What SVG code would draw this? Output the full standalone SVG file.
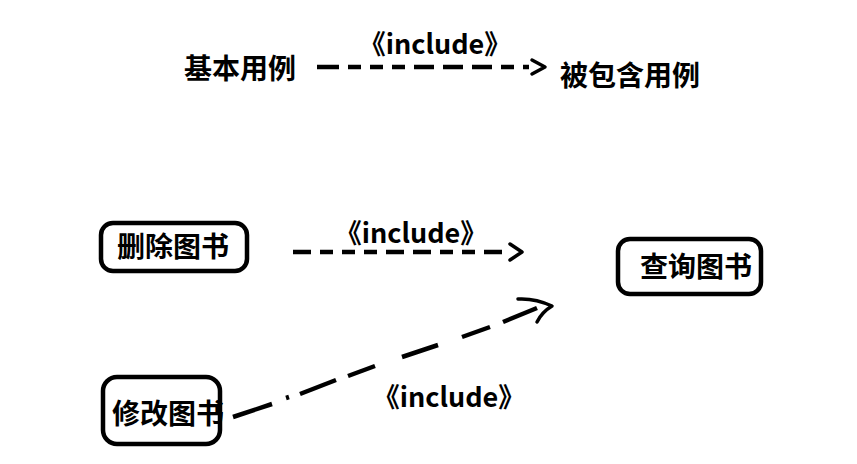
<svg xmlns="http://www.w3.org/2000/svg" width="857" height="464" viewBox="0 0 857 464">
<style>
.t{font-family:"Noto Sans CJK SC","Microsoft YaHei",sans-serif;font-weight:bold;fill:#000}
.big{font-size:28px}
.inc{font-size:27px;text-anchor:middle}
.box{fill:#fff;stroke:#000;stroke-width:4.5}
.ln{stroke:#000;stroke-width:4.5;fill:none}
.ah{stroke:#000;stroke-width:3.5;fill:none;stroke-linecap:round;stroke-linejoin:round}
</style>
<rect width="857" height="464" fill="#fff"/>
<g id="legend">
<text class="t big" x="184" y="79">基本用例</text>
<text class="t big" x="560" y="86">被包含用例</text>
<text class="t inc" x="435" y="54">《include》</text>
</g>
<g id="delete">
<rect class="box" x="101" y="223" width="146" height="48" rx="12"/>
<text class="t big" x="117" y="257">删除图书</text>
</g>
<g id="query">
<rect class="box" x="618" y="239" width="143" height="55" rx="12"/>
<text class="t big" x="640" y="277">查询图书</text>
</g>
<g id="modify">
<rect class="box" x="103" y="377" width="117" height="67" rx="14"/>
<text class="t big" x="112" y="424">修改图书</text>
</g>
<g id="connectors">
<line class="ln" x1="317" y1="67" x2="529" y2="67" stroke-dasharray="22 9 13 9 13 9 13 9 20 9 20 9 20 9 13 9 13 9"/>
<polyline class="ah" points="532,60 545,67 532,74"/>
<text class="t inc" x="411" y="243">《include》</text>
<line class="ln" x1="293" y1="252" x2="507" y2="252" stroke-dasharray="18 9 13 9 13 9 13 9 18 9 18 9 13 9 13 9"/>
<polyline class="ah" points="510,244 522,252 510,260"/>
<g class="ln" stroke-width="5">
<line x1="233" y1="417" x2="272" y2="404"/>
<line x1="286" y1="398" x2="289" y2="397"/>
<line x1="300" y1="394" x2="336" y2="380"/>
<line x1="348" y1="376" x2="375" y2="366"/>
<line x1="402" y1="357" x2="438" y2="345"/>
<line x1="462" y1="337" x2="490" y2="327"/>
<line x1="503" y1="322" x2="537" y2="308"/>
</g>
<path class="ah" d="M518,299 Q535,298 552,306 Q542,312 537,322"/>
<text class="t inc" x="449" y="407">《include》</text>
</g>
</svg>
